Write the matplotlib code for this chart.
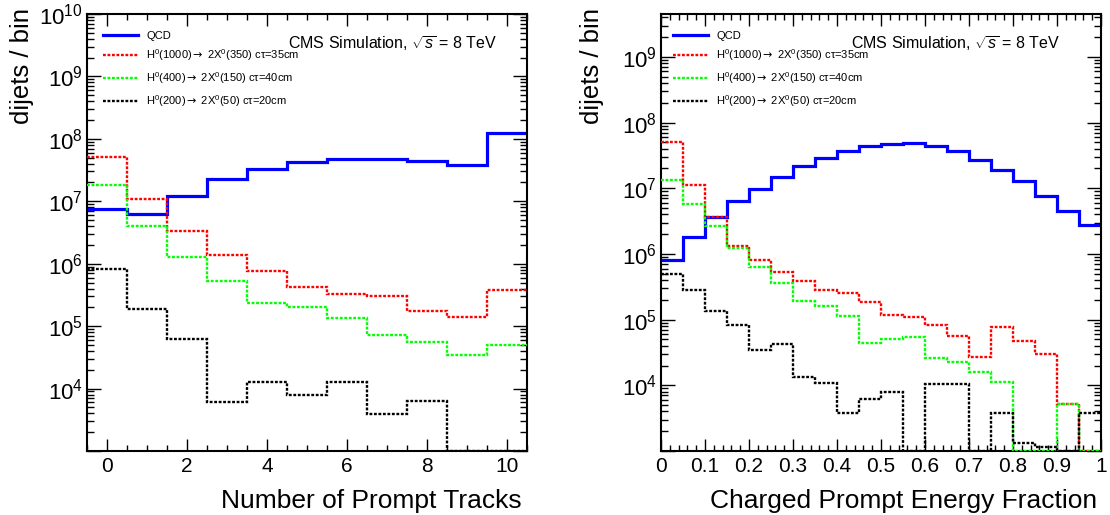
import numpy as np
import matplotlib
matplotlib.use("Agg")
import matplotlib.pyplot as plt
from matplotlib.ticker import FixedLocator, LogLocator, FuncFormatter, MultipleLocator, NullFormatter

# Fonte parecida com a Helvetica do ROOT
plt.rcParams['font.family'] = ['Liberation Sans', 'DejaVu Sans']
plt.rcParams['mathtext.fontset'] = 'custom'
plt.rcParams['mathtext.rm'] = 'Liberation Sans'
plt.rcParams['mathtext.it'] = 'Liberation Sans:italic'
plt.rcParams['mathtext.bf'] = 'Liberation Sans:bold'
plt.rcParams['mathtext.sf'] = 'DejaVu Sans'  # só para a seta da legenda

# --- Dados ---
# Painel esquerdo: número de traços prompt, bins de -0.5 a 10.5
bordas_tracos = np.arange(-0.5, 11.0, 1.0)
qcd_tracos = [7.4e6, 6.3e6, 1.21e7, 2.24e7, 3.33e7, 4.26e7, 4.7e7, 4.7e7, 4.43e7, 3.77e7, 1.22e8]
h1000_tracos = [5.19e7, 1.08e7, 3.33e6, 1.40e6, 7.75e5, 4.28e5, 3.26e5, 3.03e5, 1.78e5, 1.42e5, 3.74e5]
h400_tracos = [1.81e7, 4.02e6, 1.29e6, 5.22e5, 2.33e5, 1.99e5, 1.34e5, 7.13e4, 5.50e4, 3.48e4, 4.98e4]
h200_tracos = [8.24e5, 1.89e5, 6.22e4, 6.0e3, 1.28e4, 7.9e3, 1.28e4, 3.85e3, 6.4e3, 0, 0]

# Painel direito: fração de energia carregada prompt, 20 bins de 0 a 1
bordas_fracao = np.linspace(0.0, 1.0, 21)
qcd_fracao = [8.1e5, 1.82e6, 3.64e6, 6.38e6, 9.8e6, 1.48e7, 2.16e7, 2.89e7, 3.66e7, 4.36e7,
              4.79e7, 4.90e7, 4.46e7, 3.66e7, 2.72e7, 1.92e7, 1.27e7, 7.7e6, 4.49e6, 2.74e6]
h1000_fracao = [5.07e7, 1.11e7, 3.68e6, 1.34e6, 8.0e5, 5.39e5, 3.88e5, 2.80e5, 2.52e5, 1.88e5,
                1.19e5, 1.10e5, 8.27e4, 5.56e4, 2.72e4, 7.7e4, 4.66e4, 2.98e4, 5.15e3, 0]
h400_fracao = [1.35e7, 5.80e6, 2.62e6, 1.24e6, 6.35e5, 3.62e5, 1.92e5, 1.63e5, 1.14e5, 4.40e4,
               5.0e4, 5.49e4, 2.59e4, 2.25e4, 1.58e4, 1.14e4, 0, 0, 5.2e3, 0]
h200_fracao = [4.91e5, 2.83e5, 1.35e5, 8.18e4, 3.44e4, 4.19e4, 1.36e4, 1.08e4, 3.76e3, 6.2e3,
               7.85e3, 0, 1.04e4, 1.04e4, 0, 3.8e3, 1.31e3, 1.16e3, 0, 3.8e3]

nomes = ['QCD',
         r'H$^0$(1000)$\mathsf{\rightarrow}$ 2X$^0$(350) cτ=35cm',
         r'H$^0$(400)$\mathsf{\rightarrow}$ 2X$^0$(150) cτ=40cm',
         r'H$^0$(200)$\mathsf{\rightarrow}$ 2X$^0$(50) cτ=20cm']
cores = ['#0000ff', '#ff0000', '#00ff00', '#000000']

y_min = 1e3
pontilhado = (0, (1.2, 0.7))


def formata_y(valor, pos):
    expoente = int(round(np.log10(valor)))
    if expoente <= 3:
        return ''
    return r'$\mathdefault{10^{%d}}$' % expoente


def desenha_painel(ax, bordas, series, y_max, x_major, x_minor, pos_legenda, pos_cms):
    for i, valores in enumerate(series):
        # bins vazios ficam no chão do gráfico, como no ROOT
        v = np.maximum(np.array(valores, dtype=float), y_min)
        if i == 0:
            ax.stairs(v, bordas, baseline=None, color=cores[i], lw=2.3, label=nomes[i], zorder=2)
        else:
            ax.stairs(v, bordas, baseline=None, color=cores[i], lw=1.7, linestyle=pontilhado,
                      label=nomes[i], zorder=3)

    ax.set_yscale('log')
    ax.set_xlim(bordas[0], bordas[-1])
    ax.set_ylim(y_min, y_max)

    ax.yaxis.set_major_locator(FixedLocator([10.0 ** k for k in range(3, 11)]))
    ax.yaxis.set_major_formatter(FuncFormatter(formata_y))
    ax.yaxis.set_minor_locator(LogLocator(base=10, subs=np.arange(2, 10), numticks=20))
    ax.yaxis.set_minor_formatter(NullFormatter())
    ax.xaxis.set_major_locator(MultipleLocator(x_major))
    ax.xaxis.set_minor_locator(MultipleLocator(x_minor))
    ax.xaxis.set_major_formatter(FuncFormatter(lambda v, p: '%g' % round(v, 3)))

    ax.tick_params(which='both', direction='in', top=True, right=True, width=1.0, color='black')
    ax.tick_params(axis='x', which='major', length=8.5, labelsize=15, pad=4)
    ax.tick_params(axis='x', which='minor', length=4.3)
    ax.tick_params(axis='y', which='major', length=10, labelsize=16, pad=3)
    ax.tick_params(axis='y', which='minor', length=5)
    for lado in ax.spines.values():
        lado.set_linewidth(1.5)

    ax.legend(loc='upper left', bbox_to_anchor=pos_legenda, frameon=False, fontsize=8,
              handlelength=3.2, handletextpad=0.7, labelspacing=0.62,
              borderpad=0, borderaxespad=0)
    ax.text(pos_cms, 0.92, r'CMS Simulation, $\sqrt{s}$ = 8 TeV', transform=ax.transAxes,
            ha='right', va='baseline', fontsize=11.5)


fig = plt.figure(figsize=(11.1, 5.15), dpi=100)
ax1 = fig.add_axes([87 / 1110, 64 / 515, 440 / 1110, 437 / 515])
ax2 = fig.add_axes([661 / 1110, 64 / 515, 440 / 1110, 437 / 515])

desenha_painel(ax1, bordas_tracos, [qcd_tracos, h1000_tracos, h400_tracos, h200_tracos],
               1e10, 2, 0.5, (0.036, 0.962), 0.932)
desenha_painel(ax2, bordas_fracao, [qcd_fracao, h1000_fracao, h400_fracao, h200_fracao],
               4.5e9, 0.1, 0.02, (0.027, 0.962), 0.907)

# títulos dos eixos (alinhados à direita / topo, estilo ROOT)
fig.text(522 / 1110, 7 / 515, 'Number of Prompt Tracks', ha='right', va='baseline', fontsize=19)
fig.text(1097 / 1110, 7 / 515, 'Charged Prompt Energy Fraction', ha='right', va='baseline', fontsize=19)
fig.text(22 / 1110, 1 - 124 / 515, 'dijets / bin', rotation=90, ha='center', va='bottom', fontsize=18.5)
fig.text(592 / 1110, 1 - 124 / 515, 'dijets / bin', rotation=90, ha='center', va='bottom', fontsize=18.5)

fig.savefig('out.png', dpi=100)
plt.close(fig)
